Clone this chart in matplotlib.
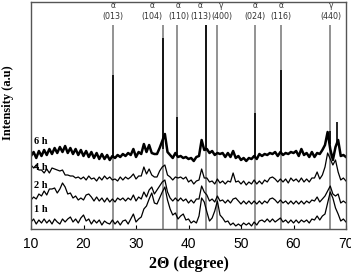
import numpy as np
import matplotlib.pyplot as plt

two_theta = np.arange(10, 70.01, 0.5)

i_1h = [7, 10, 5, 9, 6, 10, 6, 9, 5, 10, 7, 5, 10, 7, 10, 12, 7, 10, 6, 11,
        14, 8, 10, 5, 9, 6, 9, 4, 8, 6, 5, 9, 5, 8, 4, 8, 9, 5, 10, 15,
        7, 10, 12, 20, 23, 30, 36, 26, 25, 31, 37, 42, 29, 20, 14, 16, 10, 13, 15, 9,
        10, 6, 8, 6, 13, 31, 27, 17, 8, 11, 18, 28, 14, 11, 7, 8, 4, 6, 3, 5,
        3, 6, 4, 6, 3, 7, 4, 8, 9, 7, 10, 7, 10, 7, 9, 11, 7, 9, 6, 9,
        6, 9, 6, 9, 7, 9, 6, 10, 9, 13, 9, 13, 15, 26, 37, 31, 21, 15, 8, 10, 7]
i_2h = [29, 32, 30, 35, 33, 38, 34, 40, 40, 41, 36, 40, 46, 42, 35, 36, 31, 33, 29, 31,
        29, 34, 35, 32, 28, 32, 28, 31, 27, 31, 27, 30, 27, 31, 29, 31, 28, 31, 29, 34,
        28, 32, 30, 37, 32, 39, 42, 35, 39, 43, 47, 49, 37, 31, 28, 31, 28, 31, 28, 30,
        26, 29, 26, 30, 30, 43, 37, 34, 28, 30, 27, 33, 28, 29, 26, 29, 26, 30, 31, 28,
        25, 28, 25, 28, 25, 28, 25, 28, 25, 28, 26, 30, 31, 29, 26, 29, 26, 28, 25, 28,
        25, 28, 25, 28, 25, 28, 26, 29, 28, 32, 27, 30, 33, 38, 43, 35, 33, 35, 26, 28, 26]
i_4h = [64, 61, 64, 59, 59, 56, 60, 56, 61, 60, 59, 58, 59, 54, 54, 53, 53, 51, 52, 50,
        52, 49, 53, 50, 51, 48, 52, 49, 53, 50, 52, 49, 50, 48, 52, 49, 52, 50, 52, 55,
        50, 53, 53, 62, 55, 60, 54, 52, 52, 58, 62, 64, 54, 52, 49, 52, 51, 52, 50, 52,
        47, 49, 45, 48, 49, 60, 51, 51, 47, 48, 45, 50, 46, 48, 45, 48, 47, 56, 47, 48,
        45, 48, 44, 47, 45, 49, 45, 48, 45, 49, 47, 51, 52, 50, 47, 50, 47, 50, 46, 51,
        48, 50, 47, 51, 47, 50, 47, 51, 51, 57, 50, 54, 62, 76, 70, 64, 69, 57, 49, 51, 48]
i_6h = [73, 77, 71, 78, 73, 79, 74, 80, 75, 81, 76, 82, 77, 83, 76, 81, 75, 80, 74, 79,
        73, 78, 72, 77, 71, 76, 70, 75, 70, 74, 69, 73, 71, 74, 72, 75, 73, 76, 74, 80,
        72, 77, 75, 85, 77, 84, 76, 75, 75, 81, 88, 95, 77, 74, 71, 76, 72, 73, 71, 72,
        70, 71, 68, 72, 73, 89, 79, 80, 76, 78, 74, 76, 75, 76, 72, 76, 72, 78, 71, 73,
        69, 71, 68, 71, 70, 73, 70, 75, 73, 75, 74, 76, 75, 77, 73, 77, 74, 76, 75, 77,
        76, 78, 73, 80, 74, 76, 72, 77, 72, 76, 75, 79, 84, 97, 80, 69, 82, 89, 73, 74, 72]

# sharp peaks of the 6 h pattern
spike_pos = [25.6, 35.1, 37.8, 43.3, 52.7, 57.6, 66.9, 68.2]
spike_low = [71, 80, 73, 80, 72, 76, 85, 85]
spike_top = [154, 191, 112, 204, 116, 159, 98, 107]

# reference reflections
ref_pos = [25.6, 35.1, 37.8, 43.3, 45.5, 52.7, 57.6, 66.9]
ref_phase = ['α', 'α', 'α', 'α', 'γ', 'α', 'α', 'γ']
ref_hkl = ['(013)', '(104)', '(110)', '(113)', '(400)', '(024)', '(116)', '(440)']
ref_label_x = [25.6, 33.1, 38.1, 42.3, 46.3, 52.7, 57.6, 67.1]

series = [i_1h, i_2h, i_4h, i_6h]
series_names = ['1 h', '2 h', '4 h', '6 h']
name_y = [19, 44, 62, 88]

fig = plt.figure(figsize=(3.51, 2.74), dpi=100)
ax = fig.add_axes([31/351, 45/274, 315/351, 227/274])

ax.vlines(ref_pos, 0, 204, color='#8a8a8a', lw=1.3, zorder=1)
for x, ph, hkl in zip(ref_label_x, ref_phase, ref_hkl):
    ax.text(x, 223, ph, ha='center', va='center', fontsize=5.5, color='#333333')
    ax.text(x, 212, hkl, ha='center', va='center', fontsize=5.8, color='#333333')

for i, s in enumerate(series):
    lw = 1.8 if i == 3 else 0.9
    ax.plot(two_theta, s, color='black', lw=lw, zorder=2)
ax.vlines(spike_pos, spike_low, spike_top, color='black', lw=1.2, zorder=3)

for nm, yy in zip(series_names, name_y):
    ax.text(10.5, yy, nm, fontsize=7.5, fontweight='bold', family='Liberation Serif',
            va='center', ha='left')

ax.set_xlim(10, 70)
ax.set_ylim(0, 227)
ax.set_yticks([])
ax.set_xticks([10, 20, 30, 40, 50, 60, 70])
ax.tick_params(axis='x', direction='in', length=3, labelsize=10, pad=6)
for lab in ax.get_xticklabels():
    lab.set_family('Liberation Sans')
for sp in ax.spines.values():
    sp.set_color('#555555')
    sp.set_linewidth(1.0)

ax.set_xlabel('2Θ (degree)', fontsize=11.5, fontweight='bold', family='Liberation Serif')
ax.set_ylabel('Intensity (a.u)', fontsize=9, fontweight='bold', family='Liberation Serif')
ax.xaxis.set_label_coords(0.5, -0.12)
ax.yaxis.set_label_coords(-0.055, 0.555)

fig.savefig('out.png', dpi=100)
